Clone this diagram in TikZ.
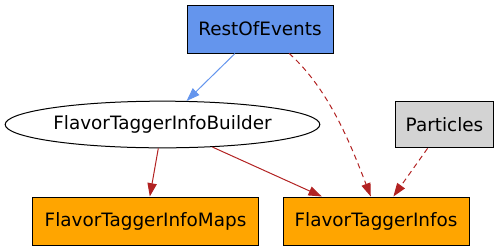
\documentclass[tikz,border=0pt]{standalone}
\usepackage{fontspec}
\setmainfont{DejaVu Sans}
\usetikzlibrary{arrows.meta,shapes.geometric}
\definecolor{cornflower}{HTML}{6495ED}
\definecolor{firebrick}{HTML}{B22222}
\definecolor{ltgray}{HTML}{D3D3D3}
\definecolor{gvorange}{HTML}{FFA500}
\begin{document}
\begin{tikzpicture}[x=0.75pt,y=-0.75pt,>={Triangle[length=10pt,width=7pt]},font=\fontsize{13.8}{17}\selectfont,line width=0.75pt]
\tikzstyle{box}=[draw,rectangle,minimum height=36pt,inner sep=0pt]
\tikzstyle{dep}=[->,firebrick]
\useasboundingbox (0,0) rectangle (499,251);
\node[box,fill=cornflower,minimum width=109.5pt] (roe) at (260,29) {RestOfEvents};
\node[draw,ellipse,minimum width=236pt,minimum height=35pt,inner sep=0pt] (ftib) at (162.5,124.5) {FlavorTaggerInfoBuilder};
\node[box,fill=ltgray,minimum width=74pt,minimum height=35pt] (part) at (444.5,124.5) {Particles};
\node[box,fill=gvorange,minimum width=170pt] (maps) at (145.5,221) {FlavorTaggerInfoMaps};
\node[box,fill=gvorange,minimum width=139.5pt] (infos) at (376,221) {FlavorTaggerInfos};
\draw[->,cornflower] (roe) -- (ftib);
\draw[dep] (ftib) -- (maps);
\draw[dep] (ftib) -- (infos);
\draw[dep,dash pattern=on 4pt off 3pt] (roe.-40) .. controls (330,90) and (352,148) .. (infos.102);
\draw[dep,dash pattern=on 4pt off 3pt] (part) -- (infos);
\end{tikzpicture}
\end{document}
